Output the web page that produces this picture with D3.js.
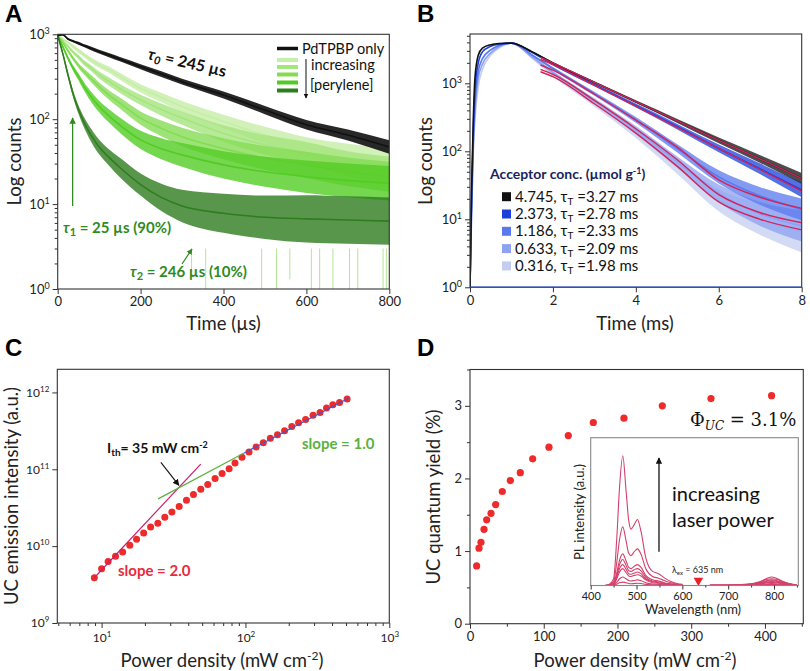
<!DOCTYPE html>
<html><head><meta charset="utf-8">
<script src="https://cdn.jsdelivr.net/npm/d3@7"></script>
<style>body{margin:0;background:#fff} svg{font-family:Lato,'Open Sans',sans-serif}</style>
</head><body><svg id="c" width="810" height="671"></svg>
<script>
// ---------------- DATA ----------------
// Panel A: phosphorescence decays (time in µs, counts)
const tA = [0,12,25,37,50,62,75,100,125,150,200,250,300,400,500,600,700,800];
const aBlack = [970,990,880,830,783,740,700,625,565,510,416,340,277,193,128,86,65,47];
const aG1 = [970,880,800,720,640,580,520,436,380,320,231,180,141,94,65,47,38,33];
const aG2 = [970,840,720,620,540,470,420,332,275,230,169,130,103,68,50,40,30,25];
const aG3 = [970,800,640,520,430,370,320,242,190,155,103,78,62,45,35,29,24,21];
const aG4 = [970,720,520,400,317,250,200,141,108,85,57,45,38,29,24,21,19,17.6];
const aG5 = [970,600,330,200,130,95,72,47,35,27,17,12,9.5,7.8,7.0,6.7,6.5,6.3];
const sBlack = [1.02,1.02,1.03,1.03,1.04,1.04,1.05,1.05,1.06,1.06,1.07,1.08,1.08,1.1,1.12,1.14,1.16,1.2];
const sG1 = [1.02,1.03,1.04,1.05,1.06,1.06,1.07,1.08,1.09,1.1,1.12,1.14,1.16,1.2,1.25,1.3,1.35,1.4];
const sG2 = [1.02,1.03,1.04,1.05,1.06,1.07,1.08,1.1,1.12,1.13,1.15,1.18,1.2,1.25,1.3,1.35,1.4,1.45];
const sG3 = [1.02,1.03,1.05,1.06,1.07,1.08,1.1,1.12,1.14,1.16,1.2,1.24,1.28,1.33,1.38,1.43,1.47,1.5];
const sG4 = [1.02,1.04,1.06,1.08,1.1,1.12,1.14,1.17,1.2,1.23,1.28,1.33,1.38,1.45,1.5,1.55,1.58,1.6];
const sG5 = [1.02,1.05,1.08,1.1,1.12,1.15,1.18,1.22,1.25,1.3,1.35,1.45,1.55,1.7,1.8,1.9,1.9,1.9];
const spikeT = [323,357,492,528,560,612,632,664,704,724,785,793];
const spikeV = [1.6,1,1,1,1.3,1,1,1,1,1,1,1];
const xTicksA = [0,200,400,600,800];

// Panel B: delayed fluorescence (time in ms)
const tB = [0,0.04,0.08,0.12,0.2,0.3,0.5,0.7,1.0,1.5,2,3,4,5,6,7,8];
const bC1 = [1,30,300,1200,2600,3300,3700,3850,3900,2900,1990,1030,537,280,145,77,40];
const bC2 = [1,25,200,800,2000,2900,3500,3750,3900,2850,1900,950,470,230,110,55,27];
const bC3 = [1,20,150,500,1500,2300,3100,3600,3900,2600,1650,700,290,110,42,22,14];
const bC4 = [1,15,120,380,1200,1900,2800,3450,3900,2450,1450,560,210,70,24,12,8];
const bC5 = [1,12,100,288,900,1600,2600,3300,3900,2350,1350,500,180,58,19,10,6.5];
const bS1 = [1,1,1,1,1,1,1,1,1,1.02,1.03,1.04,1.05,1.07,1.1,1.14,1.2];
const bS2 = [1,1,1,1,1,1,1,1,1,1.03,1.04,1.05,1.07,1.1,1.14,1.2,1.28];
const bS3 = [1,1,1,1,1,1,1,1,1,1.03,1.05,1.07,1.1,1.15,1.25,1.35,1.45];
const bS4 = [1,1,1,1,1,1,1,1,1,1.04,1.05,1.08,1.12,1.2,1.35,1.5,1.7];
const bS5 = [1,1,1,1,1,1,1,1,1,1.04,1.06,1.1,1.15,1.25,1.45,1.7,2.0];
const tFit = [1.7,2,3,4,5,6,7,8];
const fit1 = [2410,1990,1030,537,280,145,77,40];
const fit2 = [2250,1880,930,460,225,110,54,26];
const fit3 = [1860,1560,690,288,115,38,21,14.5];
const fit4 = [1600,1350,560,215,75,23,12.5,8.9];
const fit5 = [1480,1250,500,185,60,18,10,7.0];
const legendConc = ["4.745","2.373","1.186","0.633","0.316"];
const legendTau = ["3.27","2.78","2.33","2.09","1.98"];
const xTicksB = [0,2,4,6,8];

// Panel C: UC intensity vs power density
const pC = [8.9,10,11.1,12.5,14.0,15.7,17.5,19.6,21.9,24.6,27.5,30.8,34.6,38.9,43.5,48.9,54.7,61.5,68.8,77.0,84.6,94.6,105.9,118.6,133,149,167,187,210,234,262,295,330,366,405,451,509];
const iC = [3.88e9,5.08e9,6.3e9,7.4e9,8.4e9,1.03e10,1.23e10,1.48e10,1.77e10,1.99e10,2.38e10,2.79e10,3.28e10,3.96e10,4.69e10,5.50e10,6.32e10,7.57e10,8.79e10,1.02e11,1.21e11,1.43e11,1.68e11,1.95e11,2.22e11,2.53e11,2.82e11,3.18e11,3.61e11,4.03e11,4.46e11,5.03e11,5.50e11,6.26e11,6.92e11,7.41e11,8.19e11];
const slope2X = [8.9,48.9], slope2Y = [3.88e9,1.17e11];
const slope1gX = [24.7,97.9], slope1gY = [4.12e10,1.63e11];
const slope1bX = [97.9,520], slope1bY = [1.63e11,8.4e11];
const thresholdX = 35;

// Panel D: UC quantum yield vs power density
const pD = [9.0,12.2,14.9,19.0,22.6,28.5,34.8,43.8,54.7,68.2,85.0,107.1,133.3,167.2,208.8,260.8,326.8,409];
const qD = [0.795,1.04,1.12,1.30,1.43,1.52,1.64,1.82,1.97,2.08,2.27,2.43,2.59,2.77,2.83,3.00,3.10,3.14];
const xTicksD = [0,100,200,300,400];
const yTicksD = [0,1,2,3];

// Inset: PL spectra at increasing laser power
const wlA = [430,440,450,457,463,470,477,483,488,495,502,510,520,535,548,560,575,590,600];
const wlB = [660,700,740,770,785,795,805,820,840,850];
const specA = [
 [0,0.02,0.12,0.85,1.75,2.3,1.7,1.15,1.0,1.08,1.17,0.95,0.5,0.25,0.21,0.14,0.07,0.03,0.02],
 [0,0.01,0.07,0.42,0.82,1.04,0.8,0.57,0.53,0.6,0.65,0.55,0.3,0.16,0.13,0.09,0.05,0.02,0.01],
 [0,0.01,0.04,0.23,0.45,0.56,0.44,0.32,0.3,0.34,0.37,0.32,0.18,0.1,0.08,0.05,0.03,0.01,0.01],
 [0,0.01,0.03,0.19,0.37,0.46,0.36,0.26,0.25,0.28,0.30,0.26,0.15,0.08,0.065,0.04,0.02,0.01,0.01],
 [0,0.01,0.03,0.15,0.3,0.37,0.29,0.21,0.2,0.22,0.24,0.21,0.12,0.065,0.05,0.03,0.015,0.01,0.01],
 [0,0,0.02,0.12,0.24,0.30,0.23,0.17,0.16,0.18,0.19,0.17,0.1,0.05,0.04,0.025,0.012,0.005,0.005],
 [0,0,0.01,0.06,0.12,0.15,0.12,0.09,0.08,0.09,0.1,0.085,0.05,0.025,0.02,0.012,0.006,0,0],
 [0,0,0.005,0.025,0.05,0.06,0.05,0.035,0.03,0.035,0.04,0.035,0.02,0.01,0.008,0.005,0,0,0]
];
const specB = [
 [0.01,0.01,0.02,0.07,0.13,0.15,0.13,0.07,0.02,0.01],
 [0.01,0.01,0.02,0.06,0.11,0.12,0.11,0.06,0.02,0.01],
 [0.01,0.01,0.015,0.05,0.09,0.1,0.09,0.05,0.015,0.01],
 [0,0.01,0.01,0.04,0.075,0.085,0.075,0.04,0.01,0],
 [0,0,0.01,0.03,0.06,0.07,0.06,0.03,0.01,0],
 [0,0,0.01,0.025,0.05,0.055,0.05,0.025,0.01,0],
 [0,0,0,0.015,0.03,0.035,0.03,0.015,0,0],
 [0,0,0,0.01,0.015,0.02,0.015,0.01,0,0]
];
const laserWl = 635;
const xTicksIn = [400,500,600,700,800];

// ---------------- DRAW ----------------
const svg = d3.select("#c");
const defs = svg.append("defs");
const INK = "#222";

function marker(id, color, size) {
  defs.append("marker").attr("id", id).attr("viewBox","0 0 10 10").attr("refX",9).attr("refY",5)
    .attr("markerWidth",size).attr("markerHeight",size).attr("orient","auto-start-reverse")
    .append("path").attr("d","M0,0 L10,5 L0,10 z").attr("fill",color);
}
marker("arrG","#2e8b1e",5); marker("arrK","#111",5); marker("arrK2","#111",6);

function clip(id, x0, y0, x1, y1) {
  defs.append("clipPath").attr("id", id).append("rect").attr("x",x0).attr("y",y0).attr("width",x1-x0).attr("height",y1-y0);
}
function frame(x0,y0,x1,y1,color,w) {
  svg.append("rect").attr("x",x0).attr("y",y0).attr("width",x1-x0).attr("height",y1-y0)
    .attr("fill","none").attr("stroke",color||"#333").attr("stroke-width",w||1.1);
}
function styleAxis(g, fs) {
  g.select(".domain").remove();
  g.selectAll(".tick line").attr("stroke","#333");
  g.selectAll(".tick text").attr("fill",INK).attr("font-size",fs).attr("font-family","Lato,sans-serif");
}
function decorateLog(g, supSize, supDy) {
  g.selectAll(".tick text").each(function(d){
    const t = d3.select(this); t.text(null);
    t.append("tspan").text("10");
    t.append("tspan").attr("font-size",supSize).attr("dy",supDy).text(Math.round(Math.log10(d)));
  });
}
function minorLog(lo, hi) {
  const out = [];
  for (let e = Math.floor(Math.log10(lo)); e <= Math.ceil(Math.log10(hi)); e++)
    for (let m = 2; m <= 9; m++) { const v = m*Math.pow(10,e); if (v>lo && v<hi) out.push(v); }
  return out;
}
function axisTitle(text, x, y, rot, fs) {
  const t = svg.append("text").attr("x",x).attr("y",y).attr("text-anchor","middle")
    .attr("font-size",fs||18.5).attr("fill",INK);
  t.append("tspan").text(text);
  if (rot) t.attr("transform",`rotate(-90,${x},${y})`);
  return t;
}
function panelLetter(l, x, y) {
  svg.append("text").attr("x",x).attr("y",y).attr("font-family","'Liberation Sans',Arial,sans-serif")
    .attr("font-weight","bold").attr("font-size",24).attr("fill","#000").text(l);
}
function band(g, x, y, ts, vs, ss, color, lw, op) {
  const data = ts.map((t,i)=>({t, v:vs[i], s:ss[i]}));
  g.append("path").datum(data)
    .attr("d", d3.area().x(d=>x(d.t)).y0(d=>y(d.v/d.s)).y1(d=>y(d.v*d.s)).curve(d3.curveMonotoneX))
    .attr("fill", color).attr("opacity", op==null?0.6:op);
  g.append("path").datum(data)
    .attr("d", d3.line().x(d=>x(d.t)).y(d=>y(d.v)).curve(d3.curveMonotoneX))
    .attr("fill","none").attr("stroke",color).attr("stroke-width",lw);
}

// ===== Panel A =====
{
  const X0=57.7, X1=389.3, Y0=34.3, Y1=289;
  const x = d3.scaleLinear().domain([0,800]).range([X0,X1]);
  const y = d3.scaleLog().domain([1,1000]).range([Y1,Y0]).clamp(true);
  clip("clipA", X0, Y0, X1, Y1);
  const g = svg.append("g").attr("clip-path","url(#clipA)");
  const greens = ["#c5eea6","#a5e57e","#84dc55","#52cc24","#2e7d1e"];
  g.selectAll("line.sp").data(spikeT).join("line")
    .attr("x1",d=>x(d)).attr("x2",d=>x(d)).attr("y1",y(3)).attr("y2",(d,i)=>y(spikeV[i]))
    .attr("stroke","#b4e690").attr("stroke-width",1);
  [[aG1,sG1],[aG2,sG2],[aG3,sG3],[aG4,sG4],[aG5,sG5]].forEach((s,i)=>band(g,x,y,tA,s[0],s[1],greens[i],1.6,0.8));
  band(g,x,y,tA,aBlack,sBlack,"#111",1.6,0.9);
  frame(X0,Y0,X1,Y1);
  const ax = svg.append("g").attr("transform",`translate(0,${Y1})`).call(d3.axisBottom(x).tickValues(xTicksA).tickSize(5).tickPadding(3));
  styleAxis(ax,13);
  const ay = svg.append("g").attr("transform",`translate(${X0},0)`).call(d3.axisLeft(y).tickValues([1,10,100,1000]).tickSize(5).tickPadding(3));
  styleAxis(ay,13); decorateLog(ay,9,-5);
  const aym = svg.append("g").attr("transform",`translate(${X0},0)`).call(d3.axisLeft(y).tickValues(minorLog(1,1000)).tickSize(3).tickFormat(""));
  styleAxis(aym,13);
  axisTitle("Log counts",21,161.5,true);
  axisTitle("Time (µs)",223.5,330,false);
  panelLetter("A",5,22);
  svg.append("line").attr("x1",277).attr("x2",298).attr("y1",48.5).attr("y2",48.5).attr("stroke","#111").attr("stroke-width",3.5);
  svg.append("text").attr("x",302).attr("y",53.5).attr("font-size",14.5).attr("fill","#111").text("PdTPBP only");
  [60,67,74.5,82.5,90.5].forEach((yy,i)=>svg.append("line").attr("x1",277).attr("x2",298).attr("y1",yy).attr("y2",yy).attr("stroke",greens[i]).attr("stroke-width",4));
  svg.append("line").attr("x1",306).attr("x2",306).attr("y1",59).attr("y2",98).attr("stroke","#111").attr("stroke-width",1).attr("marker-end","url(#arrK)");
  svg.append("text").attr("x",311).attr("y",70).attr("font-size",14.5).attr("fill","#111").text("increasing");
  svg.append("text").attr("x",310).attr("y",90).attr("font-size",14.5).attr("fill","#111").text("[perylene]");
  const t0 = svg.append("text").attr("x",147).attr("y",59).attr("transform","rotate(13,147,59)")
    .attr("font-size",16).attr("font-weight","bold").attr("fill","#111");
  t0.append("tspan").attr("font-style","italic").text("τ");
  t0.append("tspan").attr("font-style","italic").attr("font-size",11).attr("dy",3).text("0");
  t0.append("tspan").attr("dy",-3).text(" = 245 µs");
  svg.append("line").attr("x1",x(36)).attr("x2",x(36)).attr("y1",206).attr("y2",118)
    .attr("stroke","#2e8b1e").attr("stroke-width",1.3).attr("marker-end","url(#arrG)");
  const t1 = svg.append("text").attr("x",63).attr("y",233).attr("font-size",15).attr("font-weight","bold").attr("fill","#2e8b1e");
  t1.append("tspan").attr("font-style","italic").text("τ");
  t1.append("tspan").attr("font-size",11).attr("dy",3).text("1");
  t1.append("tspan").attr("dy",-3).text(" = 25 µs (90%)");
  const t2 = svg.append("text").attr("x",130).attr("y",277).attr("font-size",15).attr("font-weight","bold").attr("fill","#2e8b1e");
  t2.append("tspan").attr("font-style","italic").text("τ");
  t2.append("tspan").attr("font-size",11).attr("dy",3).text("2");
  t2.append("tspan").attr("dy",-3).text(" = 246 µs (10%)");
  svg.append("line").attr("x1",182).attr("y1",264).attr("x2",192).attr("y2",249)
    .attr("stroke","#2e8b1e").attr("stroke-width",1.2).attr("marker-end","url(#arrG)");
}

// ===== Panel B =====
{
  const X0=470, X1=801.7, Y0=34, Y1=287.3;
  const x = d3.scaleLinear().domain([0,8]).range([X0,X1]);
  const y = d3.scaleLog().domain([1,5310]).range([Y1,Y0]).clamp(true);
  clip("clipB", X0, Y0, X1, Y1);
  const g = svg.append("g").attr("clip-path","url(#clipB)");
  const blues = ["#111111","#1c3fdc","#5a78ee","#8da2f2","#c3cdf0"];
  const curves = [[bC1,bS1],[bC2,bS2],[bC3,bS3],[bC4,bS4],[bC5,bS5]];
  for (let i=4;i>=0;i--) band(g,x,y,tB,curves[i][0],curves[i][1],blues[i],1.6,0.75);
  [fit1,fit2,fit3,fit4,fit5].forEach(f=>{
    g.append("path").datum(tFit.map((t,i)=>[t,f[i]]))
      .attr("d",d3.line().x(d=>x(d[0])).y(d=>y(d[1])).curve(d3.curveMonotoneX))
      .attr("fill","none").attr("stroke","#d0245a").attr("stroke-width",1.4);
  });
  frame(X0,Y0,X1,Y1);
  svg.append("line").attr("x1",X0).attr("x2",X1).attr("y1",Y1).attr("y2",Y1).attr("stroke","#2a4fd6").attr("stroke-width",1.5);
  const ax = svg.append("g").attr("transform",`translate(0,${Y1})`).call(d3.axisBottom(x).tickValues(xTicksB).tickSize(5).tickPadding(3));
  styleAxis(ax,13);
  const ay = svg.append("g").attr("transform",`translate(${X0},0)`).call(d3.axisLeft(y).tickValues([1,10,100,1000]).tickSize(5).tickPadding(3));
  styleAxis(ay,13); decorateLog(ay,9,-5);
  const aym = svg.append("g").attr("transform",`translate(${X0},0)`).call(d3.axisLeft(y).tickValues(minorLog(1,5310)).tickSize(3).tickFormat(""));
  styleAxis(aym,13);
  axisTitle("Log counts",432,161,true);
  axisTitle("Time (ms)",635,330,false);
  panelLetter("B",417,22);
  const lt = svg.append("text").attr("x",490).attr("y",179).attr("font-size",14).attr("font-weight","bold").attr("fill","#1a1f5e");
  lt.append("tspan").text("Acceptor conc. (µmol g");
  lt.append("tspan").attr("font-size",9).attr("dy",-5).text("-1");
  lt.append("tspan").attr("dy",5).text(")");
  legendConc.forEach((c,i)=>{
    const yy = 196.7 + i*17.3;
    svg.append("rect").attr("x",502).attr("y",yy-4.5).attr("width",9).attr("height",9).attr("fill",blues[i]);
    const t = svg.append("text").attr("x",515).attr("y",yy+5).attr("font-size",15).attr("fill","#111");
    t.append("tspan").text(c + ", τ");
    t.append("tspan").attr("font-size",10).attr("dy",3).text("T");
    t.append("tspan").attr("dy",-3).text(" =" + legendTau[i] + " ms");
  });
}

// ===== Panel C =====
{
  const X0=57.3, X1=389.3, Y0=369.3, Y1=623;
  const x = d3.scaleLog().domain([4.92,1000]).range([X0,X1]);
  const y = d3.scaleLog().domain([1e9,2e12]).range([Y1,Y0]);
  frame(X0,Y0,X1,Y1);
  const ax = svg.append("g").attr("transform",`translate(0,${Y1})`).call(d3.axisBottom(x).tickValues([10,100,1000]).tickSize(5).tickPadding(5));
  styleAxis(ax,12); decorateLog(ax,8,-5);
  const axm = svg.append("g").attr("transform",`translate(0,${Y1})`).call(d3.axisBottom(x).tickValues(minorLog(4.92,1000)).tickSize(3).tickFormat(""));
  styleAxis(axm,12);
  const ay = svg.append("g").attr("transform",`translate(${X0},0)`).call(d3.axisLeft(y).tickValues([1e9,1e10,1e11,1e12]).tickSize(5).tickPadding(3));
  styleAxis(ay,12); decorateLog(ay,8,-5);
  svg.append("g").selectAll("circle").data(pC).join("circle")
    .attr("cx",d=>x(d)).attr("cy",(d,i)=>y(iC[i])).attr("r",3.5).attr("fill","#ee2a2a");
  const ln = d3.line().x(d=>x(d[0])).y(d=>y(d[1]));
  svg.append("path").attr("d",ln(slope2X.map((v,i)=>[v,slope2Y[i]]))).attr("stroke","#c8206e").attr("stroke-width",1.2).attr("fill","none");
  svg.append("path").attr("d",ln(slope1gX.map((v,i)=>[v,slope1gY[i]]))).attr("stroke","#5cb040").attr("stroke-width",1.2).attr("fill","none");
  svg.append("path").attr("d",ln(slope1bX.map((v,i)=>[v,slope1bY[i]]))).attr("stroke","#3a5bd0").attr("stroke-width",1.2).attr("fill","none");
  const ix = x(thresholdX), iy = y(slope2Y[0]*Math.pow(thresholdX/slope2X[0],2));
  svg.append("line").attr("x1",ix-19).attr("y1",iy-24).attr("x2",ix-1).attr("y2",iy-1)
    .attr("stroke","#111").attr("stroke-width",1.1).attr("marker-end","url(#arrK2)");
  const it = svg.append("text").attr("x",107).attr("y",453).attr("font-size",14).attr("font-weight","bold").attr("fill","#111");
  it.append("tspan").text("I");
  it.append("tspan").attr("font-size",10).attr("dy",3).text("th");
  it.append("tspan").attr("dy",-3).text("= 35 mW cm");
  it.append("tspan").attr("font-size",9).attr("dy",-5).text("-2");
  svg.append("text").attr("x",302).attr("y",449).attr("font-size",15).attr("font-weight","bold").attr("fill","#5cb040").text("slope = 1.0");
  svg.append("text").attr("x",118).attr("y",576).attr("font-size",15).attr("font-weight","bold").attr("fill","#e8283c").text("slope = 2.0");
  axisTitle("UC emission intensity (a.u.)",18,496,true);
  const xt = axisTitle("Power density (mW cm",222,667,false);
  xt.append("tspan").attr("font-size",12).attr("dy",-7).text("-2");
  xt.append("tspan").attr("dy",7).text(")");
  panelLetter("C",5,356);
}

// ===== Panel D =====
{
  const X0=470, X1=803.3, Y0=369.5, Y1=623.7;
  const x = d3.scaleLinear().domain([0,452]).range([X0,X1]);
  const y = d3.scaleLinear().domain([0,3.5]).range([Y1,Y0]);
  frame(X0,Y0,X1,Y1);
  const ax = svg.append("g").attr("transform",`translate(0,${Y1})`).call(d3.axisBottom(x).tickValues(xTicksD).tickSize(5).tickPadding(3).tickFormat(d3.format("d")));
  styleAxis(ax,13);
  const axm = svg.append("g").attr("transform",`translate(0,${Y1})`).call(d3.axisBottom(x).tickValues([50,150,250,350,450]).tickSize(3).tickFormat(""));
  styleAxis(axm,13);
  const ay = svg.append("g").attr("transform",`translate(${X0},0)`).call(d3.axisLeft(y).tickValues(yTicksD).tickSize(5).tickPadding(3).tickFormat(d3.format("d")));
  styleAxis(ay,13);
  const aym = svg.append("g").attr("transform",`translate(${X0},0)`).call(d3.axisLeft(y).tickValues([0.5,1.5,2.5,3.5]).tickSize(3).tickFormat(""));
  styleAxis(aym,13);
  svg.append("g").selectAll("circle").data(pD).join("circle")
    .attr("cx",d=>x(d)).attr("cy",(d,i)=>y(qD[i])).attr("r",3.6).attr("fill","#ee2a2a");
  const ph = svg.append("text").attr("x",690).attr("y",426).attr("font-size",18)
    .attr("font-family","'DejaVu Serif','Liberation Serif',serif").attr("fill","#111");
  ph.append("tspan").text("Φ");
  ph.append("tspan").attr("font-size",12).attr("font-style","italic").attr("dy",4).text("UC");
  ph.append("tspan").attr("dy",-4).text(" = 3.1%");
  axisTitle("UC quantum yield (%)",440,497,true);
  const xt = axisTitle("Power density (mW cm",635,667,false);
  xt.append("tspan").attr("font-size",12).attr("dy",-7).text("-2");
  xt.append("tspan").attr("dy",7).text(")");
  panelLetter("D",417,356);

  const IX0=590.7, IX1=798.3, IY0=437.7, IY1=585.5;
  svg.append("rect").attr("x",IX0).attr("y",IY0).attr("width",IX1-IX0).attr("height",IY1-IY0).attr("fill","#fff");
  const xi = d3.scaleLinear().domain([400,853]).range([IX0,IX1]);
  const yi = d3.scaleLinear().domain([0,2.62]).range([IY1,IY0]);
  const sl = d3.line().x(d=>xi(d[0])).y(d=>yi(d[1])).curve(d3.curveMonotoneX);
  specA.forEach((s,k)=>{
    svg.append("path").attr("d",sl(wlA.map((w,i)=>[w,s[i]]))).attr("fill","none").attr("stroke","#d3406c").attr("stroke-width",1.1);
    svg.append("path").attr("d",sl(wlB.map((w,i)=>[w,specB[k][i]]))).attr("fill","none").attr("stroke","#d3406c").attr("stroke-width",1.1);
  });
  svg.append("path").attr("d",d3.symbol(d3.symbolTriangle,40)()).attr("fill","#e8202a")
    .attr("transform",`translate(${xi(laserWl)},${yi(0.09)}) rotate(180)`);
  frame(IX0,IY0,IX1,IY1,"#888",1.1);
  const axi = svg.append("g").attr("transform",`translate(0,${IY1})`).call(d3.axisBottom(xi).tickValues(xTicksIn).tickSize(4).tickPadding(3));
  styleAxis(axi,11);
  const axim = svg.append("g").attr("transform",`translate(0,${IY1})`).call(d3.axisBottom(xi).tickValues([450,550,650,750,850]).tickSize(2).tickFormat(""));
  styleAxis(axim,11);
  svg.append("text").attr("x",693).attr("y",614).attr("text-anchor","middle").attr("font-size",13).attr("fill",INK).text("Wavelength (nm)");
  svg.append("text").attr("transform",`rotate(-90,584,512)`).attr("x",584).attr("y",512).attr("text-anchor","middle").attr("font-size",13).attr("fill",INK).text("PL intensity (a.u.)");
  svg.append("line").attr("x1",xi(549)).attr("x2",xi(549)).attr("y1",yi(0.6)).attr("y2",yi(2.26))
    .attr("stroke","#111").attr("stroke-width",1.3).attr("marker-end","url(#arrK)");
  svg.append("text").attr("x",672).attr("y",501).attr("font-size",20).attr("fill","#111").text("increasing");
  svg.append("text").attr("x",672).attr("y",527).attr("font-size",20).attr("fill","#111").text("laser power");
  const le = svg.append("text").attr("x",672).attr("y",573).attr("font-size",9).attr("fill","#222");
  le.append("tspan").text("λ");
  le.append("tspan").attr("font-size",6).attr("dy",2).text("ex");
  le.append("tspan").attr("dy",-2).text(" = 635 nm");
}
</script></body></html>
